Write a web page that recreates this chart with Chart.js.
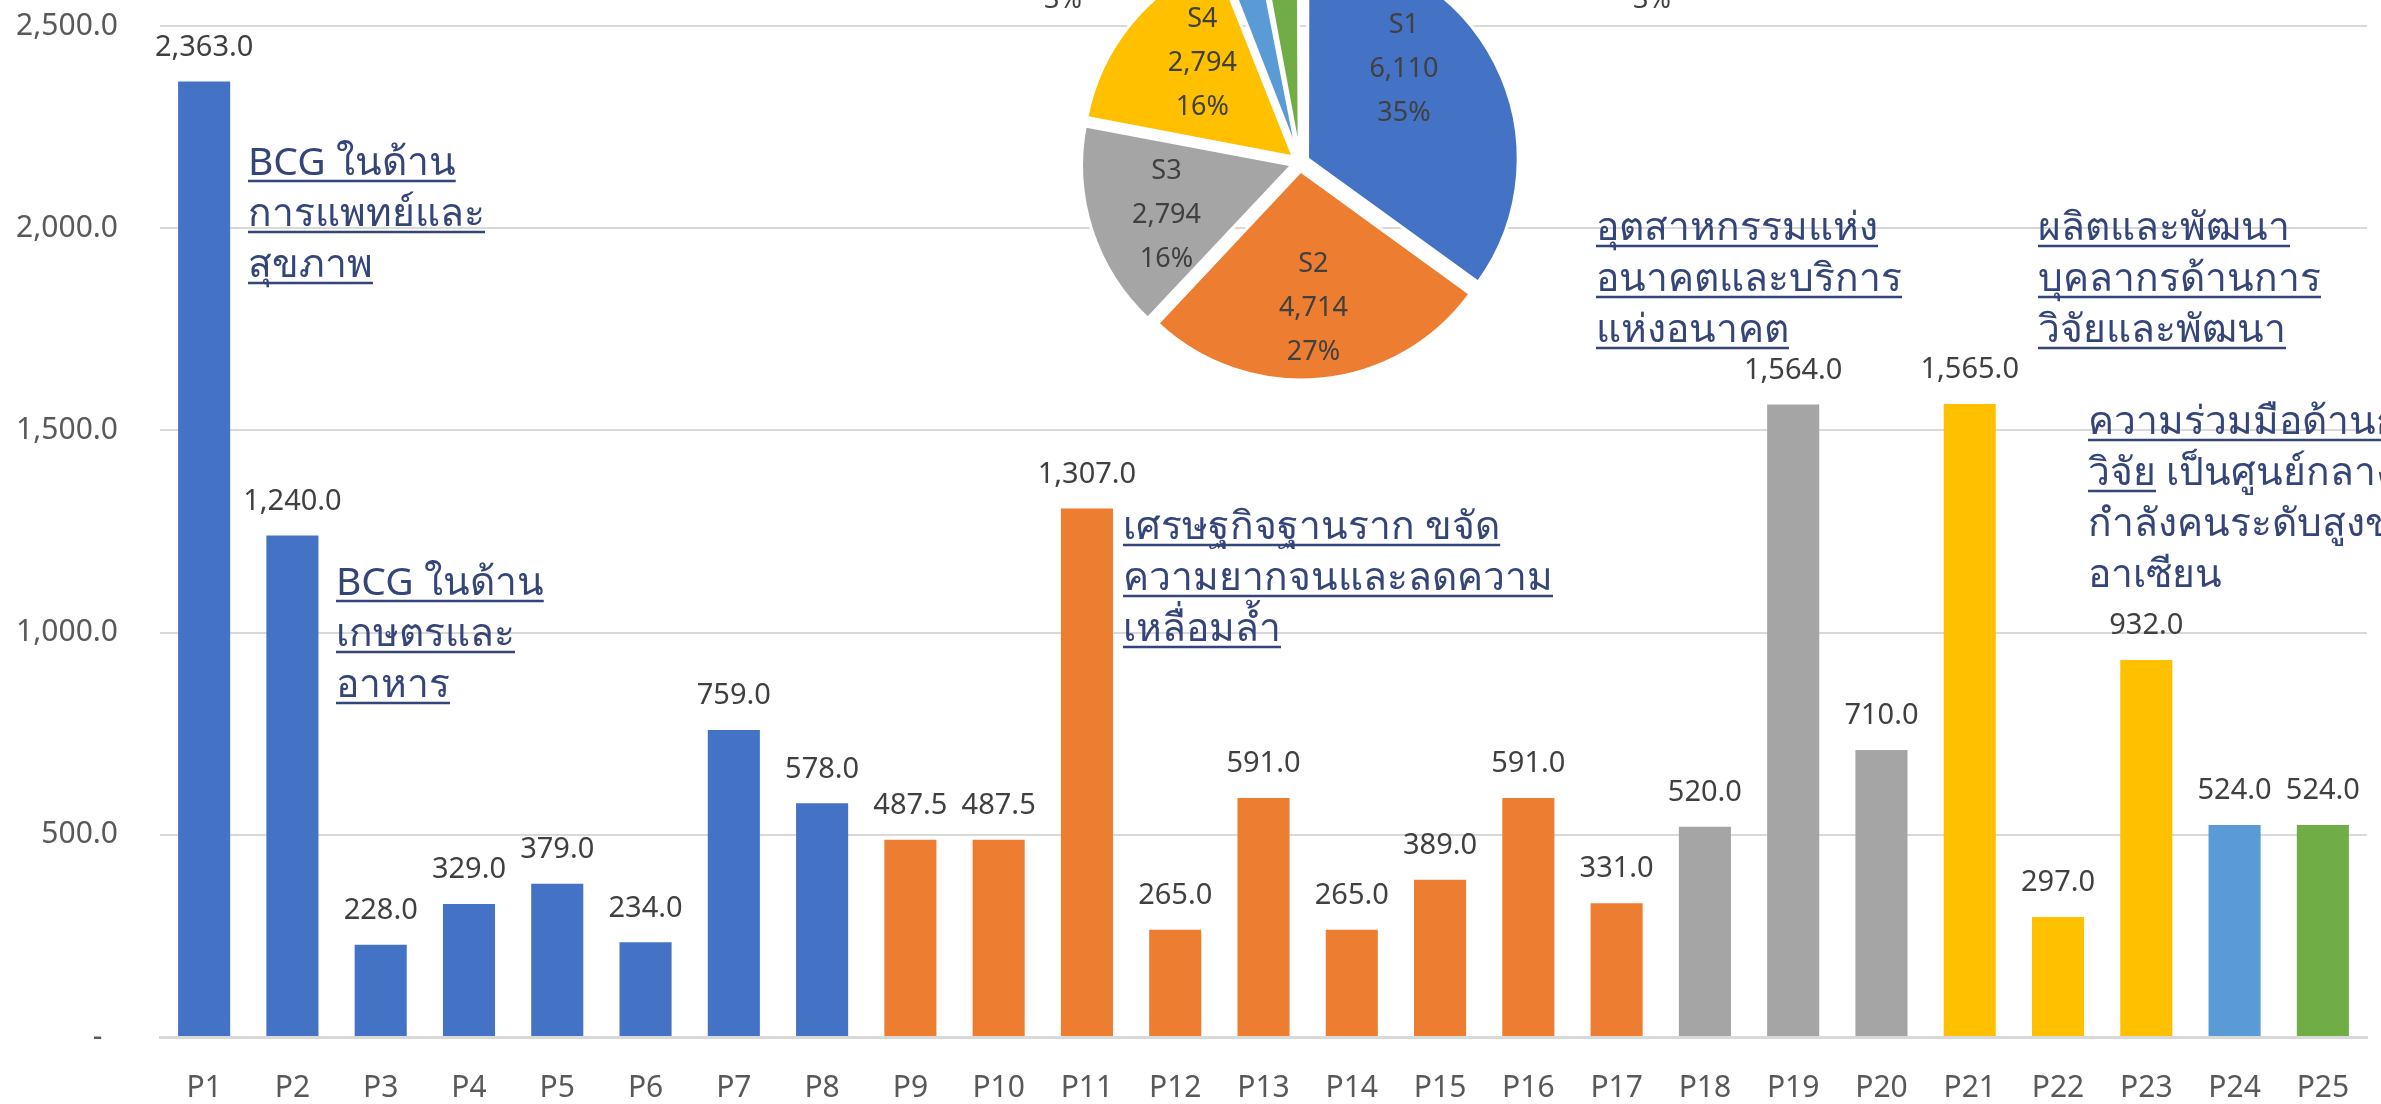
<!DOCTYPE html>
<html lang="th">
<head>
    <meta charset="UTF-8">
    <title>P1-P25 bar chart with sector pie</title>
    <script src="https://cdn.jsdelivr.net/npm/chart.js"></script>
    <style>
        html, body {
            margin: 0;
            padding: 0;
            background: #ffffff;
            overflow: hidden;
        }
        .stage {
            position: relative;
            width: 2381px;
            height: 1104px;
            overflow: hidden;
        }
        #barChart {
            position: absolute;
            left: 0;
            top: 0;
        }
        #pieChart {
            position: absolute;
            left: 850px;
            top: -65px;
        }
    </style>
</head>
<body>
    <div class="stage">
        <canvas id="barChart" width="2381" height="1104"></canvas>
        <canvas id="pieChart" width="900" height="455"></canvas>
    </div>

    <script>
        // ข้อมูลกราฟแท่ง
        const categories = ['P1', 'P2', 'P3', 'P4', 'P5', 'P6', 'P7', 'P8', 'P9', 'P10',
            'P11', 'P12', 'P13', 'P14', 'P15', 'P16', 'P17', 'P18', 'P19', 'P20',
            'P21', 'P22', 'P23', 'P24', 'P25'];
        const values = [2363, 1240, 228, 329, 379, 234, 759, 578, 487.5, 487.5,
            1307, 265, 591, 265, 389, 591, 331, 520, 1564, 710,
            1565, 297, 932, 524, 524];
        // กลุ่ม (S1..S6) ของแต่ละแท่ง
        const groupOf = [0, 0, 0, 0, 0, 0, 0, 0, 1, 1, 1, 1, 1, 1, 1, 1, 1, 2, 2, 2, 3, 3, 3, 4, 5];
        const yMin = 0;
        const yMax = 2500;
        const yStep = 500;

        // ข้อมูลกราฟวงกลม
        const sectorNames = ['S1', 'S2', 'S3', 'S4', 'S5', 'S6'];
        const sectorValues = [6110, 4714, 2794, 2794, 524, 524];
        const sectorColors = ['#4472C4', '#ED7D31', '#A5A5A5', '#FFC000', '#5B9BD5', '#70AD47'];

        const FONT = "'Noto Sans', 'DejaVu Sans', sans-serif";
        const TEXT_DARK = '#404040';
        const AXIS_TEXT = '#595959';
        const NOTE_COLOR = '#34457A';

        // ข้อความกำกับ (ตำแหน่งเป็นพิกเซล)
        const notes = [
            { x: 248, y: 175, lines: [[['BCG ในด้าน', true]], [['การแพทย์และ', true]], [['สุขภาพ', true]]] },
            { x: 336, y: 595, lines: [[['BCG ในด้าน', true]], [['เกษตรและ', true]], [['อาหาร', true]]] },
            { x: 1123, y: 539, lines: [[['เศรษฐกิจฐานราก ขจัด', true]], [['ความยากจนและลดความ', true]], [['เหลื่อมล้ำ', true]]] },
            { x: 1596, y: 240, lines: [[['อุตสาหกรรมแห่ง', true]], [['อนาคตและบริการ', true]], [['แห่งอนาคต', true]]] },
            { x: 2038, y: 240, lines: [[['ผลิตและพัฒนา', true]], [['บุคลากรด้านการ', true]], [['วิจัยและพัฒนา', true]]] },
            { x: 2088, y: 434, lines: [[['ความร่วมมือด้านการ', true]], [['วิจัย', true], [' เป็นศูนย์กลางการพัฒนา', false]], [['กำลังคนระดับสูงของ', false]], [['อาเซียน', false]]] }
        ];

        function fmt1(v) {
            return v.toLocaleString('en-US', { minimumFractionDigits: 1, maximumFractionDigits: 1 });
        }

        // ป้ายค่าเหนือแท่ง + ข้อความกำกับ
        const barLabels = {
            id: 'barLabels',
            afterDatasetsDraw(chart) {
                const ctx = chart.ctx;
                const meta = chart.getDatasetMeta(0);
                ctx.save();
                ctx.font = '29px ' + FONT;
                ctx.fillStyle = TEXT_DARK;
                ctx.textAlign = 'center';
                ctx.textBaseline = 'middle';
                meta.data.forEach((bar, i) => {
                    ctx.fillText(fmt1(values[i]), bar.x, bar.y - 34);
                });
                ctx.restore();
            },
            afterDraw(chart) {
                const ctx = chart.ctx;
                ctx.save();
                ctx.font = '39px ' + FONT;
                ctx.fillStyle = NOTE_COLOR;
                ctx.strokeStyle = NOTE_COLOR;
                ctx.lineWidth = 2.5;
                ctx.textAlign = 'left';
                ctx.textBaseline = 'alphabetic';
                notes.forEach(n => {
                    n.lines.forEach((segs, li) => {
                        let x = n.x;
                        const y = n.y + li * 51;
                        segs.forEach(([txt, ul]) => {
                            const w = ctx.measureText(txt).width;
                            ctx.fillText(txt, x, y);
                            if (ul) {
                                ctx.beginPath();
                                ctx.moveTo(x, y + 6);
                                ctx.lineTo(x + w, y + 6);
                                ctx.stroke();
                            }
                            x += w;
                        });
                    });
                });
                ctx.restore();
            }
        };

        new Chart(document.getElementById('barChart'), {
            type: 'bar',
            data: {
                labels: categories,
                datasets: [{
                    data: values,
                    backgroundColor: groupOf.map(g => sectorColors[g]),
                    barPercentage: 0.59,
                    categoryPercentage: 1.0
                }]
            },
            options: {
                responsive: false,
                devicePixelRatio: 1,
                animation: false,
                layout: { padding: { left: 0, right: 14, top: 0, bottom: 0 } },
                plugins: {
                    legend: { display: false },
                    tooltip: { enabled: false }
                },
                scales: {
                    x: {
                        grid: { display: false },
                        border: { display: true, color: '#D9D9D9', width: 3 },
                        ticks: { color: AXIS_TEXT, font: { family: FONT, size: 30 }, padding: 25 },
                        afterFit(scale) { scale.height = 67; }
                    },
                    y: {
                        min: yMin,
                        max: yMax,
                        grid: { color: '#D9D9D9', lineWidth: 2, drawTicks: false },
                        border: { display: false },
                        ticks: {
                            stepSize: yStep,
                            color: AXIS_TEXT,
                            font: { family: FONT, size: 30 },
                            padding: 42,
                            callback: v => v === 0 ? '-  ' : fmt1(v)
                        },
                        afterFit(scale) {
                            scale.width = 160;
                            scale.paddingTop = 26;
                            scale.paddingBottom = 0;
                        }
                    }
                }
            },
            plugins: [barLabels]
        });

        // ป้ายกราฟวงกลม
        const pieTotal = sectorValues.reduce((a, b) => a + b, 0);
        const pieLabelNudge = [-16, 0, -2, 7, 0, 0];
        const outerLabelAt = [null, null, null, null, [-237, -162], [352, -162]];

        const pieLabels = {
            id: 'pieLabels',
            afterDatasetsDraw(chart) {
                const ctx = chart.ctx;
                const meta = chart.getDatasetMeta(0);
                ctx.save();
                ctx.font = '27px ' + FONT;
                ctx.fillStyle = TEXT_DARK;
                ctx.textAlign = 'center';
                ctx.textBaseline = 'middle';
                meta.data.forEach((arc, i) => {
                    const lines = [sectorNames[i], sectorValues[i].toLocaleString('en-US'),
                        Math.round(sectorValues[i] / pieTotal * 100) + '%'];
                    let cx, cy;
                    if (outerLabelAt[i]) {
                        cx = arc.x + outerLabelAt[i][0];
                        cy = arc.y + outerLabelAt[i][1] - 88;
                    } else {
                        const a = (arc.startAngle + arc.endAngle) / 2 + pieLabelNudge[i] * Math.PI / 180;
                        const r = arc.outerRadius * 0.68;
                        cx = arc.x + Math.cos(a) * r;
                        cy = arc.y + Math.sin(a) * r - 40;
                    }
                    lines.forEach((t, li) => ctx.fillText(t, cx, cy + li * 44));
                });
                ctx.restore();
            }
        };

        new Chart(document.getElementById('pieChart'), {
            type: 'pie',
            data: {
                labels: sectorNames,
                datasets: [{
                    data: sectorValues,
                    backgroundColor: sectorColors,
                    borderColor: '#ffffff',
                    borderWidth: 3,
                    offset: 34
                }]
            },
            options: {
                responsive: false,
                devicePixelRatio: 1,
                animation: false,
                plugins: {
                    legend: { display: false },
                    tooltip: { enabled: false }
                }
            },
            plugins: [pieLabels]
        });
    </script>
</body>
</html>
